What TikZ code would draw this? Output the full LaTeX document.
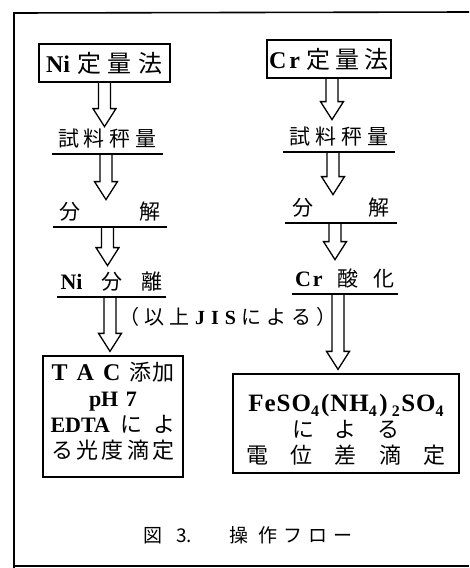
\documentclass[tikz,border=0pt]{standalone}
\usepackage{fontspec}
\setmainfont{Liberation Serif}
\newfontfamily\jpfont{Noto Sans CJK JP}
\usetikzlibrary{calc}
\newcommand\J[1]{{\jpfont\mdseries #1}}
\newcommand\lowidx[1]{\raisebox{-5pt}{\fontsize{16pt}{16pt}\selectfont #1}}
\newcommand\blkarrow[2]{\draw[blk] let \p1=(#1), \p2=(#2) in
  (\x1-6pt,\y1) -- (\x1-6pt,\y2+18pt) -- (\x1-11.5pt,\y2+18pt) -- (\x1,\y2)
  -- (\x1+11.5pt,\y2+18pt) -- (\x1+6pt,\y2+18pt) -- (\x1+6pt,\y1);}
\tikzset{
  titlebox/.style={draw, line width=1.3pt, minimum height=38pt, inner sep=0pt,
    font=\fontsize{24pt}{28pt}\selectfont\bfseries},
  stepnode/.style={anchor=south, inner xsep=0pt, inner ysep=3.5pt, text height=17pt,
    text depth=4pt, font=\fontsize{21pt}{25pt}\selectfont\bfseries},
  uline/.style={line width=1.3pt},
  blk/.style={line width=1.3pt, line join=miter},
  resbox/.style={draw, line width=1.3pt, inner sep=0pt, align=center,
    font=\fontsize{22pt}{26pt}\selectfont\bfseries},
  note/.style={font=\fontsize{20pt}{24pt}\selectfont\bfseries},
  capt/.style={font=\fontsize{19pt}{22pt}\selectfont},
  frame/.style={line width=1.6pt},
}
\begin{document}
\begin{tikzpicture}[x=1pt,y=-1pt]
\useasboundingbox (0,0) rectangle (469,568);
% frame
\draw[frame] (469,12) -- (14,13) -- (14,568);
\draw[frame] (14,566) -- (469,566);
% Ni column
\node[titlebox, minimum width=131pt] (nibox) at (104.5,63) {Ni\kern7pt\J{定\kern7pt量\kern7pt法}};
\node[stepnode, minimum width=111pt] (nis1) at (107.5,154) {\J{試\kern5pt料\kern5pt秤\kern5pt量}};
\node[stepnode, minimum width=114pt] (nis2) at (110,227) {\makebox[102pt]{\J{分}\hfill\J{解}}};
\node[stepnode, minimum width=109pt] (nis3) at (111.5,297) {\makebox[102pt]{{\fontsize{22pt}{25pt}\selectfont Ni}\hfill\J{分}\hfill\J{離}}};
% Cr column
\node[titlebox, minimum width=124pt] (crbox) at (329,59) {C\kern3pt r\kern7pt\J{定\kern5pt量\kern5pt法}};
\node[stepnode, minimum width=112pt] (crs1) at (339,152) {\J{試\kern5pt料\kern5pt秤\kern5pt量}};
\node[stepnode, minimum width=112pt] (crs2) at (341,223) {\makebox[98pt]{\J{分}\hfill\J{解}}};
\node[stepnode, minimum width=106pt] (crs3) at (345,294) {\makebox[100pt]{{\fontsize{22pt}{25pt}\selectfont C\kern2pt r}\hfill\J{酸}\hfill\J{化}}\hspace{10pt}};
% note
\node[note] (jis) at (228,317) {\J{（}\kern5pt\J{以}\kern5pt\J{上}\kern6pt J\kern6pt I\kern6pt S\kern6pt\J{に}\kern5pt\J{よ}\kern5pt\J{る}\kern5pt\J{）}};
% result boxes
\node[resbox, minimum width=140pt, minimum height=121pt] (tac) at (113,416.5)
  {\makebox[123pt]{{\fontsize{24pt}{26pt}\selectfont T\hfill A\hfill C}\hfill\J{添\kern1pt 加}}\\
   \makebox[48pt]{pH\hfill 7}\\
   \makebox[125pt]{EDTA\hfill\J{に}\hfill\J{よ}}\\
   \makebox[123pt]{\J{る}\hfill\J{光}\hfill\J{度}\hfill\J{滴}\hfill\J{定}}\rule[-12pt]{0pt}{12pt}};
\node[resbox, minimum width=226pt, minimum height=99pt] (fe) at (346,423.5)
  {\rule{0pt}{29pt}\makebox[197pt]{\fontsize{25pt}{26pt}\selectfont F\kern1pt e\kern1pt S\kern1pt O\lowidx{4}\kern2pt(\kern1pt N\kern1pt H\lowidx{4}\kern2.5pt)\kern4pt\lowidx{2}\kern1.5pt S\kern1pt O\lowidx{4}}\\
   \makebox[108pt]{\J{に}\hfill\J{よ}\hfill\J{る}}\\
   \makebox[200pt]{\J{電}\hfill\J{位}\hfill\J{差}\hfill\J{滴}\hfill\J{定}}};
% caption
\node[capt] (cap) at (248,535) {\J{図\kern14pt 3.\kern38pt 操\kern10pt 作\kern6pt フ\kern6pt ロ\kern6pt ー}};
% arrows
\blkarrow{nibox.south}{[yshift=-1pt]nis1.north}
\blkarrow{[xshift=-1.5pt]nis1.south}{[yshift=-1pt]nis2.north}
\blkarrow{[xshift=-2.5pt]nis2.south}{[yshift=3pt]nis3.north}
\blkarrow{[xshift=-1.5pt]nis3.south}{[yshift=4pt]tac.north}
\blkarrow{[xshift=3pt]crbox.south}{[yshift=4pt]crs1.north}
\blkarrow{[xshift=-6pt]crs1.south}{crs2.north}
\blkarrow{[xshift=-6pt]crs2.south}{[yshift=6pt]crs3.north}
\blkarrow{[xshift=-7pt]crs3.south}{[yshift=4pt]fe.north}
% underlines
\foreach \n in {nis1,nis2,nis3,crs1,crs2,crs3}
  \draw[uline] (\n.south west) -- (\n.south east);
\end{tikzpicture}
\end{document}
